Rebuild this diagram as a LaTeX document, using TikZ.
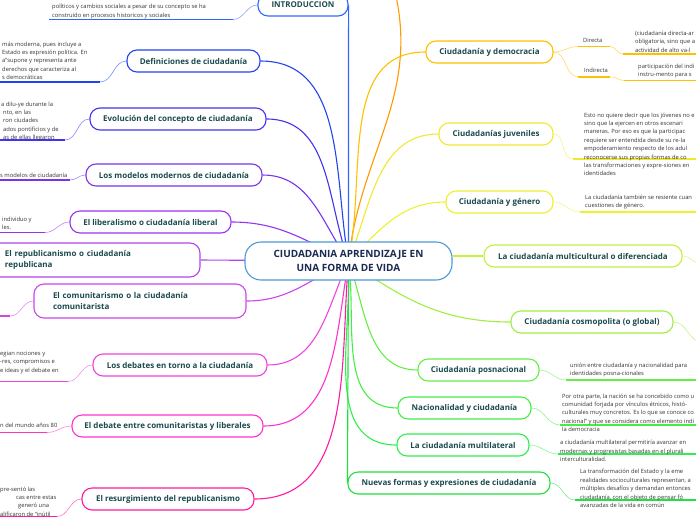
\documentclass[tikz,border=0pt]{standalone}
\usepackage{fontspec}
\setmainfont{Open Sans}
\pgfdeclarelayer{bg}
\pgfsetlayers{bg,main}
\definecolor{ttl}{HTML}{1B4A4E}
\definecolor{ctrtxt}{HTML}{1A2A50}
\definecolor{notec}{HTML}{333333}
\definecolor{cCore}{HTML}{4A9AD8}
\definecolor{cIntro}{HTML}{3366FF}
\definecolor{cDefin}{HTML}{2244EE}
\definecolor{cEvol}{HTML}{4433EE}
\definecolor{cModel}{HTML}{7733EE}
\definecolor{cLiber}{HTML}{9933EE}
\definecolor{cRepub}{HTML}{B044F0}
\definecolor{cComun}{HTML}{CC44EE}
\definecolor{cDebat}{HTML}{EE44DD}
\definecolor{cDebEn}{HTML}{FF33CC}
\definecolor{cResur}{HTML}{FF1AA0}
\definecolor{cTop}{HTML}{FF9900}
\definecolor{cDemo}{HTML}{FFC000}
\definecolor{cJuve}{HTML}{F2E830}
\definecolor{cGene}{HTML}{EEF030}
\definecolor{cMult}{HTML}{C4F040}
\definecolor{cCosm}{HTML}{A0EE40}
\definecolor{cPosn}{HTML}{66EE44}
\definecolor{cNaci}{HTML}{44EE44}
\definecolor{cMlat}{HTML}{30EE50}
\definecolor{cNuev}{HTML}{22E040}
\begin{document}
\begin{tikzpicture}[x=1pt,y=-1pt,
  topic/.style={draw=#1, line width=1.1pt, rounded corners=10pt, fill=white, minimum height=22pt, inner xsep=5pt, font=\fontsize{8}{11}\selectfont\bfseries, text=ttl},
  branch/.style={draw=#1, line width=1.1pt},
  twig/.style={draw=#1!60, line width=0.6pt},
  uline/.style={draw=#1, line width=1.6pt},
  notetxt/.style={font=\fontsize{5.8}{8.4}\selectfont, text=notec, inner sep=0pt, align=left, anchor=north west},
  lbl/.style={font=\fontsize{5.8}{7}\selectfont, text=notec, inner sep=0pt}]
\useasboundingbox (0,0) rectangle (696,520);
\clip (0,0) rectangle (696,520);

% central node
\node[draw=cCore, line width=1.1pt, rounded corners=16pt, fill=white, minimum width=207pt, minimum height=38pt, align=center, font=\fontsize{10}{14.5}\selectfont\bfseries, text=ctrtxt] (core) at (348.5,261) {CIUDADANIA APRENDIZAJE EN\\UNA FORMA DE VIDA};

% left topics
\node[topic=cIntro, minimum width=90pt] (intro) at (303,5) {INTRODUCCION};
\node[topic=cDefin, minimum width=133pt] (defin) at (193.5,61) {Definiciones de ciudadanía};
\node[topic=cEvol, minimum width=176pt] (evol) at (178,119) {Evolución del concepto de ciudadanía};
\node[topic=cModel, minimum width=176pt] (model) at (174,175) {Los modelos modernos de ciudadanía};
\node[topic=cLiber, minimum width=161pt] (liber) at (150.5,222) {El liberalismo o ciudadanía liberal};
\node[topic=cRepub, minimum width=210pt, minimum height=34pt, text width=180pt, align=left] (repub) at (95,260) {El republicanismo o ciudadanía\\republicana};
\node[topic=cComun, minimum width=212pt, minimum height=34pt, text width=174pt, align=left] (comun) at (140,301) {El comunitarismo o la ciudadanía\\comunitarista};
\node[topic=cDebat, minimum width=174pt] (debat) at (180,365) {Los debates en torno a la ciudadanía};
\node[topic=cDebEn, minimum width=191pt] (deben) at (167.5,426) {El debate entre comunitaristas y liberales};
\node[topic=cResur, minimum width=172pt] (resur) at (168,499) {El resurgimiento del republicanismo};

% right topics
\node[topic=cDemo, minimum width=127pt] (demo) at (489.5,52) {Ciudadanía y democracia};
\node[topic=cJuve, minimum width=114pt] (juve) at (496,134) {Ciudadanías juveniles};
\node[topic=cGene, minimum width=107pt] (gene) at (499.5,202) {Ciudadanía y género};
\node[topic=cMult, minimum width=198pt] (mult) at (583,256) {La ciudadanía multicultural o diferenciada};
\node[topic=cCosm, minimum width=162pt] (cosm) at (592,322) {Ciudadanía cosmopolita (o global)};
\node[topic=cPosn, minimum width=121pt] (posn) at (478.5,370) {Ciudadanía posnacional};
\node[topic=cNaci, minimum width=133pt] (naci) at (464.5,408) {Nacionalidad y ciudadanía};
\node[topic=cMlat, minimum width=132pt] (mlat) at (463,445) {La ciudadanía multilateral};
\node[topic=cNuev, minimum width=202pt] (nuev) at (449,483) {Nuevas formas y expresiones de ciudadanía};

\coordinate (topend) at (396,-4);

% notes (left)
\node[notetxt] (nIntro) at (52,4.2) {políticos y cambios sociales a pesar de su concepto se ha\\construido en procesos historicos y sociales};
\node[notetxt] (nDefin) at (2,41.5) {más moderna, pues incluye a\\Estado es expresión política. En\\a”supone y representa ante\\derechos que caracteriza al\\s democráticas};
\node[notetxt] (nEvol) at (1,101.5) {a dilu-ye durante la\\\hspace*{2pt}nto, en las\\\hspace*{2pt}ron ciudades\\\hspace*{2pt}ados pontificios y de\\\hspace*{2pt}as de ellas llegaron};
\node[notetxt] (nModel) at (0,172.5) {s modelos de ciudadanía};
\node[notetxt] (nLiber) at (2,216.5) {individuo y\\les.};
\node[notetxt] (nDebat) at (0,350.8) {egian nociones y\\-res, compromisos e\\e ideas y el debate en};
\node[notetxt] (nDebEn) at (0,423.2) {n del mundo años 80};
\node[notetxt] (nResur) at (0,486.5) {pre-sentó las\\\hspace*{16pt}cas entre estas\\\hspace*{18pt}generó una\\alificaron de “inútil};

% notes (right)
\node[lbl, anchor=west] (dir) at (583,40) {Directa};
\node[lbl, anchor=west] (indir) at (584,70) {Indirecta};
\node[notetxt] (nDir) at (635,30.8) {(ciudadanía directa-ar\\obligatoria, sino que a\\actividad de alto va-l};
\node[notetxt] (nIndir) at (638,63.5) {participación del indi\\instru-mento para s};
\node[notetxt] (nJuve) at (584,112.5) {Esto no quiere decir que los jóvenes no e\\sino que la ejercen en otros escenari\\maneras. Por eso es que la participac\\requiere ser entendida desde su re-la\\empoderamiento respecto de los adul\\reconocerse sus propias formas de co\\las transformaciones y expre-siones en\\identidades};
\node[notetxt] (nGene) at (585,194.8) {La ciudadanía también se resiente cuan\\cuestiones de género.};
\node[notetxt] (nPosn) at (570,362.5) {unión entre ciudadanía y nacionalidad para\\identidades posna-cionales};
\node[notetxt] (nNaci) at (562,393.5) {Por otra parte, la nación se ha concebido como u\\comunidad forjada por vínculos étnicos, histó-\\culturales muy concretos. Es lo que se conoce co\\nacional” y que se considera como elemento indi\\la democracia};
\node[notetxt] (nMlat) at (560,440.2) {a ciudadanía multilateral permitiría avanzar en\\modernas y progresistas basadas en el plurali\\interculturalidad.};
\node[notetxt] (nNuev) at (580,469.2) {La transformación del Estado y la eme\\realidades socioculturales representan, a\\múltiples desafíos y demandan entonces\\ciudadanía, con el objeto de pensar fó\\avanzadas de la vida en común};

% underline coordinates
\coordinate (uIntroA) at (49,19.5);  \coordinate (uIntroB) at (233,19.5);
\coordinate (uDefinA) at (-5,82);    \coordinate (uDefinB) at (100,82);
\coordinate (uEvolA) at (-5,140);    \coordinate (uEvolB) at (65,140);
\coordinate (uModelA) at (-5,180);   \coordinate (uModelB) at (70,180);
\coordinate (uLiberA) at (-5,232.5); \coordinate (uLiberB) at (45,232.5);
\coordinate (uComunA) at (-5,316);   \coordinate (uComunB) at (10,316);
\coordinate (uDebatA) at (-5,381.5); \coordinate (uDebatB) at (68,381.5);
\coordinate (uDebEnA) at (-5,432.5); \coordinate (uDebEnB) at (47,432.5);
\coordinate (uResurA) at (-5,516.5); \coordinate (uResurB) at (57,516.5);
\coordinate (uDirA) at (578,46.5);   \coordinate (uDirB) at (610,46.5);
\coordinate (uIndA) at (578,76.7);   \coordinate (uIndB) at (610,76.7);
\coordinate (uNDirA) at (623,54);    \coordinate (uNDirB) at (700,54);
\coordinate (uNIndA) at (624,80.5);  \coordinate (uNIndB) at (700,80.5);
\coordinate (uJuveA) at (573,159);   \coordinate (uJuveB) at (700,159);
\coordinate (uGeneA) at (580,212);   \coordinate (uGeneB) at (700,212);
\coordinate (uPosnA) at (566,380);   \coordinate (uPosnB) at (700,380);
\coordinate (uNaciA) at (560,425);   \coordinate (uNaciB) at (700,425);
\coordinate (uMlatA) at (558,454);   \coordinate (uMlatB) at (700,454);
\coordinate (uNuevA) at (575,500);   \coordinate (uNuevB) at (700,500);
\coordinate (xMult) at (702,264);
\coordinate (xCosm) at (702,342);

\begin{pgfonlayer}{bg}
  % branches from the centre
  \draw[branch=cIntro] (intro.east) -- (core.center);
  \draw[branch=cDefin] (defin.east) to[out=0,in=100] (core.center);
  \draw[branch=cEvol]  (evol.east)  to[out=0,in=110] (core.center);
  \draw[branch=cModel] (model.east) to[out=0,in=125] (core.center);
  \draw[branch=cLiber] (liber.east) to[out=0,in=155] (core.center);
  \draw[branch=cRepub] (repub.east) -- (core.center);
  \draw[branch=cComun] (comun.east) to[out=0,in=-155] (core.center);
  \draw[branch=cDebat] (debat.east) to[out=0,in=-115] (core.center);
  \draw[branch=cDebEn] (deben.east) to[out=0,in=-100] (core.center);
  \draw[branch=cResur] (resur.east) to[out=0,in=-95] (core.center);
  \draw[branch=cTop]   (core.center) to[out=84,in=-78] (topend);
  \draw[branch=cDemo]  (demo.west) to[out=180,in=78] (core.center);
  \draw[branch=cJuve]  (juve.west) to[out=180,in=68] (core.center);
  \draw[branch=cGene]  (gene.west) to[out=180,in=45] (core.center);
  \draw[branch=cMult]  (mult.west) -- (core.east |- mult.west);
  \draw[branch=cCosm]  (cosm.west) to[out=180,in=-35] (core.center);
  \draw[branch=cPosn]  (posn.west) to[out=180,in=-70] (core.center);
  \draw[branch=cNaci]  (naci.west) to[out=180,in=-82] (core.center);
  \draw[branch=cMlat]  (mlat.west) to[out=180,in=-87] (core.center);
  \draw[branch=cNuev]  (nuev.west) -- (core.center);

  % twigs to notes
  \draw[twig=cIntro] (uIntroB) to[out=0,in=180] (intro.west);
  \draw[twig=cDefin] (uDefinB) to[out=0,in=180] (defin.west);
  \draw[twig=cEvol]  (uEvolB)  to[out=0,in=180] (evol.west);
  \draw[twig=cModel] (uModelB) to[out=0,in=180] (model.west);
  \draw[twig=cLiber] (uLiberB) to[out=0,in=180] (liber.west);
  \draw[twig=cComun] (uComunB) to[out=0,in=180] (comun.west);
  \draw[twig=cDebat] (uDebatB) to[out=0,in=180] (debat.west);
  \draw[twig=cDebEn] (uDebEnB) to[out=0,in=180] (deben.west);
  \draw[twig=cResur] (uResurB) to[out=0,in=180] (resur.west);
  \draw[twig=cDemo] (demo.east) to[out=0,in=180] (uDirA);
  \draw[twig=cDemo] (demo.east) to[out=0,in=180] (uIndA);
  \draw[twig=cDemo] (uDirB) to[out=0,in=180] (uNDirA);
  \draw[twig=cDemo] (uIndB) to[out=0,in=180] (uNIndA);
  \draw[twig=cJuve] (juve.east) to[out=0,in=180] (uJuveA);
  \draw[twig=cGene] (gene.east) to[out=0,in=180] (uGeneA);
  \draw[twig=cMult] (mult.east) to[out=0,in=180] (xMult);
  \draw[twig=cCosm] (cosm.east) to[out=0,in=180] (xCosm);
  \draw[twig=cPosn] (posn.east) to[out=0,in=180] (uPosnA);
  \draw[twig=cNaci] (naci.east) to[out=0,in=180] (uNaciA);
  \draw[twig=cMlat] (mlat.east) to[out=0,in=180] (uMlatA);
  \draw[twig=cNuev] (nuev.east) to[out=0,in=180] (uNuevA);

  % underlines
  \draw[uline=cIntro] (uIntroA) -- (uIntroB);
  \draw[uline=cDefin] (uDefinA) -- (uDefinB);
  \draw[uline=cEvol]  (uEvolA) -- (uEvolB);
  \draw[uline=cModel] (uModelA) -- (uModelB);
  \draw[uline=cLiber] (uLiberA) -- (uLiberB);
  \draw[uline=cComun] (uComunA) -- (uComunB);
  \draw[uline=cDebat] (uDebatA) -- (uDebatB);
  \draw[uline=cDebEn] (uDebEnA) -- (uDebEnB);
  \draw[uline=cResur] (uResurA) -- (uResurB);
  \draw[uline=cDemo] (uDirA) -- (uDirB);
  \draw[uline=cDemo] (uIndA) -- (uIndB);
  \draw[uline=cDemo] (uNDirA) -- (uNDirB);
  \draw[uline=cDemo] (uNIndA) -- (uNIndB);
  \draw[uline=cJuve] (uJuveA) -- (uJuveB);
  \draw[uline=cGene] (uGeneA) -- (uGeneB);
  \draw[uline=cPosn] (uPosnA) -- (uPosnB);
  \draw[uline=cNaci] (uNaciA) -- (uNaciB);
  \draw[uline=cMlat] (uMlatA) -- (uMlatB);
  \draw[uline=cNuev] (uNuevA) -- (uNuevB);
\end{pgfonlayer}
\end{tikzpicture}
\end{document}
